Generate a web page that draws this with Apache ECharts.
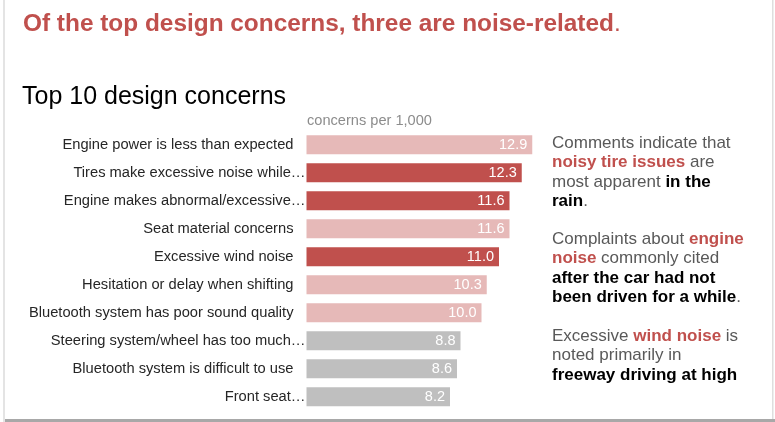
<!DOCTYPE html>
<html>
<head>
<meta charset="utf-8">
<script src="https://cdn.jsdelivr.net/npm/echarts@6/dist/echarts.min.js"></script>
<style>
html,body{margin:0;padding:0;background:#fff;}
#chart{width:775px;height:422px;}
</style>
</head>
<body>
<div id="chart"></div>
<script>
const categories = [
  'Engine power is less than expected',
  'Tires make excessive noise while\u2026',
  'Engine makes abnormal/excessive\u2026',
  'Seat material concerns',
  'Excessive wind noise',
  'Hesitation or delay when shifting',
  'Bluetooth system has poor sound quality',
  'Steering system/wheel has too much\u2026',
  'Bluetooth system is difficult to use',
  'Front seat\u2026'
];
const values = [12.9, 12.3, 11.6, 11.6, 11.0, 10.3, 10.0, 8.8, 8.6, 8.2];
const groups = ['top', 'noise', 'noise', 'top', 'noise', 'top', 'top', 'rest', 'rest', 'rest'];

const FONT = '"Liberation Sans", Arial, sans-serif';
const groupColor = { noise: '#C0504D', top: '#E6B9B8', rest: '#BFBFBF' };

const chart = echarts.init(document.getElementById('chart'), null, { renderer: 'canvas' });

const NF = '17px ' + FONT;
const NB = 'bold 17px ' + FONT;
const noteRich = {
  g: { font: NF, fill: '#595959', lineHeight: 19.3 },
  r: { font: NB, fill: '#C0504D', lineHeight: 19.3 },
  b: { font: NB, fill: '#000000', lineHeight: 19.3 }
};

function note(y, text) {
  return {
    type: 'text', left: 552, top: y,
    style: { text: text, rich: noteRich, font: NF, fill: '#595959' }
  };
}

chart.setOption({
  animation: false,
  backgroundColor: '#ffffff',
  grid: { left: 306.5, top: 130.8, width: 227.5, height: 280 },
  xAxis: { type: 'value', min: 0, max: 13, show: false },
  yAxis: {
    type: 'category', data: categories, inverse: true,
    axisLine: { show: false }, axisTick: { show: false }, splitLine: { show: false },
    axisLabel: {
      margin: 1,
      formatter: function (v) { return v.endsWith('\u2026') ? '{t|' + v + '}' : '{n|' + v + '}'; },
      rich: {
        n: { fontFamily: FONT, fontSize: 14.7, color: '#262626', padding: [0, 12, 0, 0] },
        t: { fontFamily: FONT, fontSize: 14.7, color: '#262626' }
      }
    }
  },
  series: [{
    type: 'bar',
    barWidth: 19,
    data: values.map(function (v, i) {
      return { value: v, itemStyle: { color: groupColor[groups[i]] } };
    }),
    label: {
      show: true, position: 'insideRight', distance: 5,
      color: '#ffffff', fontFamily: FONT, fontSize: 14.5,
      formatter: function (p) { return p.value.toFixed(1); }
    }
  }],
  graphic: [
    { type: 'rect', shape: { x: 3, y: 0, width: 2, height: 422 }, style: { fill: '#e4e4e4' } },
    { type: 'rect', shape: { x: 772, y: 0, width: 1.5, height: 422 }, style: { fill: '#dedede' } },
    { type: 'rect', shape: { x: 5, y: 419, width: 770, height: 3 }, style: { fill: '#a8a8a8' } },
    {
      type: 'text', left: 23, top: 12,
      style: {
        text: '{a|Of the top design concerns, three are noise-related}{p|.}',
        font: 'bold 24.4px ' + FONT, fill: '#C0504D',
        rich: {
          a: { font: 'bold 24.4px ' + FONT, fill: '#C0504D' },
          p: { font: '24.4px ' + FONT, fill: '#C0504D' }
        }
      }
    },
    {
      type: 'text', left: 22, top: 85,
      style: { text: 'Top 10 design concerns', font: '25px ' + FONT, fill: '#000000' }
    },
    {
      type: 'text', left: 307, top: 113,
      style: { text: 'concerns per 1,000', font: '14.6px ' + FONT, fill: '#8c8c8c' }
    },
    note(135, '{g|Comments indicate that}\n{r|noisy tire issues}{g| are}\n{g|most apparent }{b|in the}\n{b|rain}{g|.}'),
    note(231, '{g|Complaints about }{r|engine}\n{r|noise}{g| commonly cited}\n{b|after the car had not}\n{b|been driven for a while}{g|.}'),
    note(328, '{g|Excessive }{r|wind noise}{g| is}\n{g|noted primarily in}\n{b|freeway driving at high}')
  ]
});
</script>
</body>
</html>
